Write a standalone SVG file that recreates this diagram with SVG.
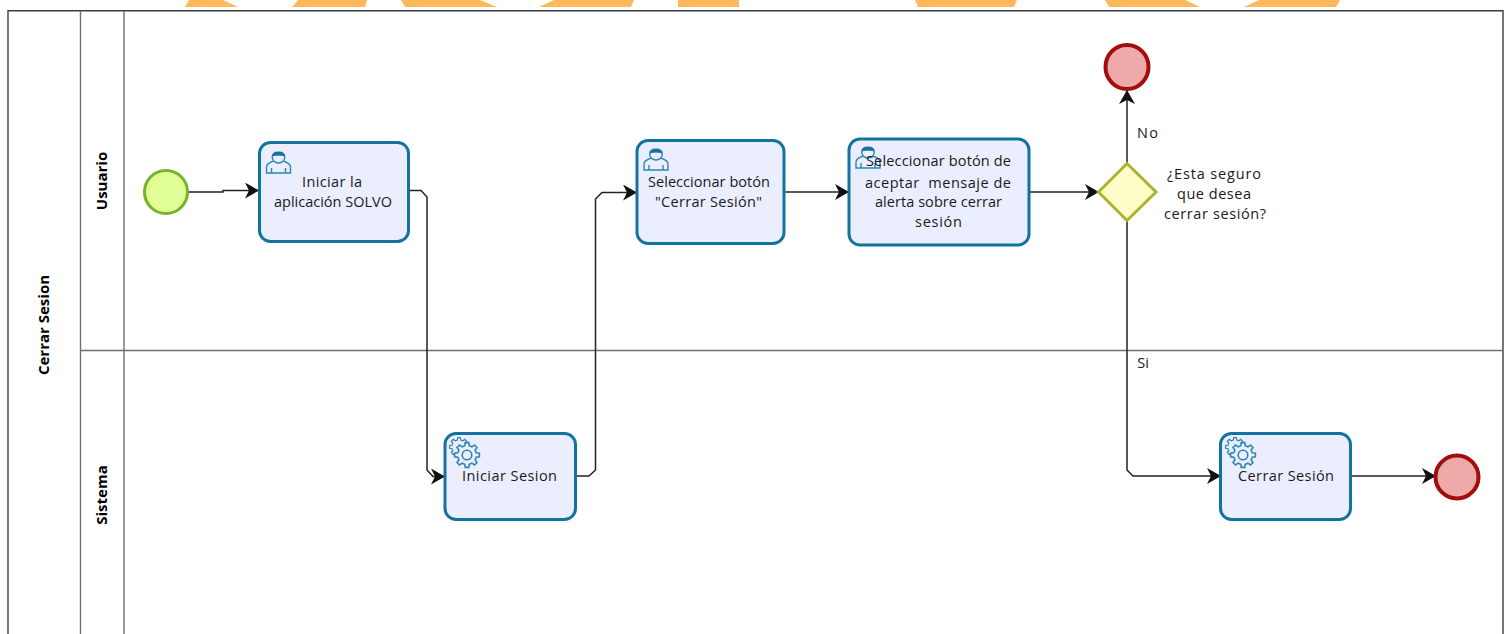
<svg xmlns="http://www.w3.org/2000/svg" width="1509" height="634" viewBox="0 0 1509 634">
<defs>
<marker id="arr" markerUnits="userSpaceOnUse" markerWidth="15" markerHeight="17" refX="14" refY="8" orient="auto"><path d="M0 0 L14 8 L0 16 L4 8 Z" fill="#111"/></marker>
<g id="user" fill="none" stroke="#2f86b4" stroke-width="1.4"><path d="M-12 11 V5 Q-12 1.500 -5 -1 Q-7 -4 -6 -7 L6 -7 Q7 -4 5 -1 Q12 1.500 12 5 V11 Z"/><path d="M-7 11 V6 M7 11 V6 M-5 -1 Q0 3 5 -1"/><path d="M-6 -5.500 Q-7 -10.500 0 -10.500 Q7 -10.500 6 -5.500 Q0 -8.500 -6 -5.500 Z" fill="#1c6f9e" stroke="none"/></g>
<polygon id="cog" points="9.22,-2.30 12.38,-1.74 12.38,1.74 9.22,2.30 8.14,4.89 9.98,7.52 7.52,9.98 4.89,8.14 2.30,9.22 1.74,12.38 -1.74,12.38 -2.30,9.22 -4.89,8.14 -7.52,9.98 -9.98,7.52 -8.14,4.89 -9.22,2.30 -12.38,1.74 -12.38,-1.74 -9.22,-2.30 -8.14,-4.89 -9.98,-7.52 -7.52,-9.98 -4.89,-8.14 -2.30,-9.22 -1.74,-12.38 1.74,-12.38 2.30,-9.22 4.89,-8.14 7.52,-9.98 9.98,-7.52 8.14,-4.89"/>
<g id="gear" fill="#eaeefe" stroke="#2f86b4" stroke-width="1.6"><use href="#cog" transform="translate(-8 -8) scale(.76)"/><use href="#cog"/><circle r="4.800"/></g>
</defs>
<style>
.t{font-family:"Open Sans","Liberation Sans",sans-serif;font-size:14.5px;fill:#1a1a1a;text-anchor:middle;white-space:pre}
.h{font-family:"Open Sans","Liberation Sans",sans-serif;font-size:15px;font-weight:700;fill:#000;text-anchor:middle}
.task{fill:#eaeefe;stroke:#13729f;stroke-width:3}
.end{fill:#eea9a9;stroke:#a20d0d;stroke-width:4}
.lane{fill:none;stroke:#707070;stroke-width:1.4}
.pool{fill:none;stroke:#3c3c3c;stroke-width:1.4}
.c{fill:none;stroke:#222;stroke-width:1.5;marker-end:url(#arr)}
.wm{fill:#ffb85c}
</style>
<rect width="1509" height="634" fill="#fff"/>
<g id="watermark">
<path class="wm" d="M189 0H223L238 7H185Z"/>
<path class="wm" d="M298 0H367L365 7H292Z"/>
<path class="wm" d="M401 0H480L497 7H405Z"/>
<path class="wm" d="M554 0H634L631 7H539Z"/>
<path class="wm" d="M678 0H739V7H678Z"/>
<path class="wm" d="M915 0H1017L1014 7H918Z"/>
<path class="wm" d="M1105 0H1185L1200 7H1109Z"/>
<path class="wm" d="M1259 0H1340L1336 7H1244Z"/>
</g>
<g id="pool">
<path d="M8 634V10.700H1503V634" class="pool"/>
<path d="M80.500 11V634M124 11V634M80.500 350.500H1503" class="lane"/>
<text class="h" transform="translate(49 325) rotate(-90)">Cerrar Sesion</text>
<text class="h" transform="translate(107 181) rotate(-90)">Usuario</text>
<text class="h" transform="translate(107 495) rotate(-90)">Sistema</text>
</g>
<g id="connectors">
<path class="c" d="M188 192H223V190.500H259"/>
<path class="c" d="M408 190.500H421L427 197V470L433 476.500H445"/>
<path class="c" d="M576 476H589L595.500 470V199L602 192.500H637"/>
<path class="c" d="M784 192H849"/>
<path class="c" d="M1029 192H1099"/>
<path class="c" d="M1127 163V90"/>
<path class="c" d="M1127 221V470L1133 476H1221"/>
<path class="c" d="M1350 476H1436"/>
</g>
<g id="start"><circle cx="166" cy="192" r="21.500" fill="#e2fe96" stroke="#75b32a" stroke-width="3"/></g>
<g id="task-iniciar-app"><rect class="task" x="259.500" y="142.500" width="149" height="99" rx="11"/><use href="#user" x="278.500" y="162"/><text class="t" x="332" y="187" textLength="60">Iniciar la</text><text class="t" x="333" y="207" textLength="118">aplicación SOLVO</text></g>
<g id="task-iniciar-sesion"><rect class="task" x="445" y="433.500" width="130.500" height="86" rx="11"/><use href="#gear" x="467" y="455"/><text class="t" x="509.500" y="481" textLength="95">Iniciar Sesion</text></g>
<g id="task-sel-cerrar"><rect class="task" x="637" y="140.500" width="147" height="103" rx="11"/><use href="#user" x="656" y="159"/><text class="t" x="709" y="187" textLength="122">Seleccionar botón</text><text class="t" x="708.500" y="207" textLength="107">"Cerrar Sesión"</text></g>
<g id="task-sel-aceptar"><rect class="task" x="849" y="139" width="180" height="106" rx="11"/><use href="#user" x="868" y="157"/><text class="t" x="938.500" y="166" textLength="145">Seleccionar botón de</text><text class="t" x="938" y="188" textLength="146">aceptar  mensaje de</text><text class="t" x="938.500" y="207" textLength="127">alerta sobre cerrar</text><text class="t" x="938.500" y="227" textLength="47">sesión</text></g>
<g id="gateway"><path d="M1127 163.500L1156 192L1127 220.500L1098.500 192Z" fill="#fefec8" stroke="#b0b030" stroke-width="3"/><text class="t" x="1214" y="179" textLength="94">¿Esta seguro</text><text class="t" x="1214" y="199" textLength="74">que desea</text><text class="t" x="1215" y="219" textLength="102">cerrar sesión?</text></g>
<g id="end-no"><ellipse class="end" cx="1127" cy="67" rx="21.500" ry="22"/></g>
<g id="task-cerrar"><rect class="task" x="1220.500" y="433.500" width="130" height="86" rx="11"/><use href="#gear" x="1243" y="455"/><text class="t" x="1286" y="481" textLength="96">Cerrar Sesión</text></g>
<g id="end-si"><circle class="end" cx="1457" cy="477" r="21.500"/></g>
<g id="labels"><text class="t" x="1147.500" y="138" textLength="21">No</text><text class="t" x="1143" y="368">Si</text></g>
</svg>
